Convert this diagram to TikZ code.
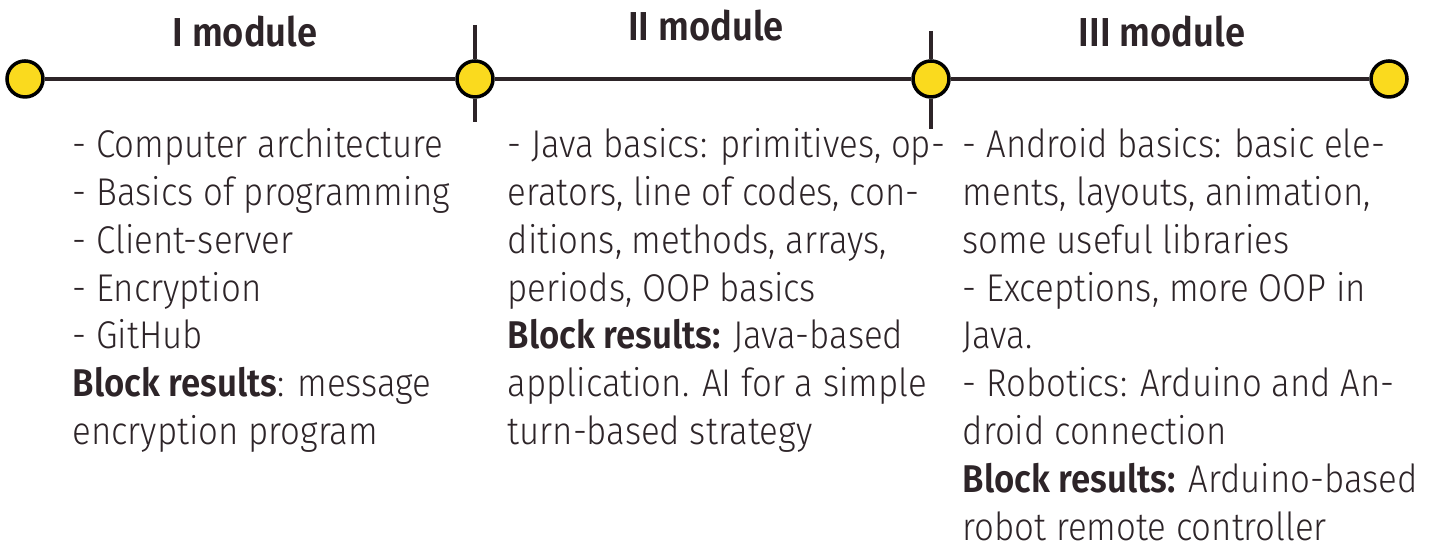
\documentclass[tikz,border=0pt]{standalone}
\usepackage{fontspec}
\setmainfont{Fira Sans Light}[FakeStretch=0.9, BoldFont=Fira Sans SemiBold]
\usepackage{xcolor}
\usetikzlibrary{positioning}
\definecolor{textdark}{RGB}{45, 36, 40}
\definecolor{dotyellow}{RGB}{250, 218, 30}

\begin{document}
\begin{tikzpicture}[
    dot/.style={circle, draw=black, line width=1pt, fill=dotyellow,
                minimum size=0.36cm, inner sep=0pt},
    axis/.style={draw=textdark, line width=1.2pt},
    title/.style={font=\fontsize{11.5}{14}\selectfont\bfseries, text=textdark},
    block/.style={anchor=north west, align=left, inner sep=0pt, text=textdark,
                  font=\fontsize{11}{13.6}\selectfont}
]
    \useasboundingbox (0,0) rectangle (14.37,5.44);

    % Timeline dots
    \node[dot] (start) at (0.25,4.65) {};
    \node[dot] (second) at (4.75,4.65) {};
    \node[dot] (third) at (9.31,4.65) {};
    \node[dot] (finish) at (13.89,4.65) {};

    % Ticks
    \coordinate (t1top) at (4.75,5.19);
    \coordinate (t1bot) at (4.75,4.22);
    \coordinate (t2top) at (9.31,5.13);
    \coordinate (t2bot) at (9.31,4.15);

    % Timeline
    \draw[axis] (start) -- (second);
    \draw[axis] (second) -- (third);
    \draw[axis] (third) -- (finish);
    \draw[axis] (t1top) -- (second);
    \draw[axis] (second) -- (t1bot);
    \draw[axis] (t2top) -- (third);
    \draw[axis] (third) -- (t2bot);

    % Module titles
    \node[title] (mod1) at (2.45,5.12) {I module};
    \node[title] (mod2) at (7.06,5.18) {II module};
    \node[title] (mod3) at (11.62,5.12) {III module};

    % Module contents
    \node[block] (block1) at (0.72,4.16) {
        - Computer architecture\\
        - Basics of programming\\
        - Client-server\\
        - Encryption\\
        - GitHub\\
        \textbf{Block results}: message\\
        encryption program
    };
    \node[block] (block2) at (5.07,4.16) {
        - Java basics: primitives, op-\\
        erators, line of codes, con-\\
        ditions, methods, arrays,\\
        periods, OOP basics\\
        \textbf{Block results:} Java-based\\
        application. AI for a simple\\
        turn-based strategy
    };
    \node[block] (block3) at (9.62,4.16) {
        - Android basics: basic ele-\\
        ments, layouts, animation,\\
        some useful libraries\\
        - Exceptions, more OOP in\\
        Java.\\
        - Robotics: Arduino and An-\\
        droid connection\\
        \textbf{Block results:} Arduino-based\\
        robot remote controller
    };
\end{tikzpicture}
\end{document}
